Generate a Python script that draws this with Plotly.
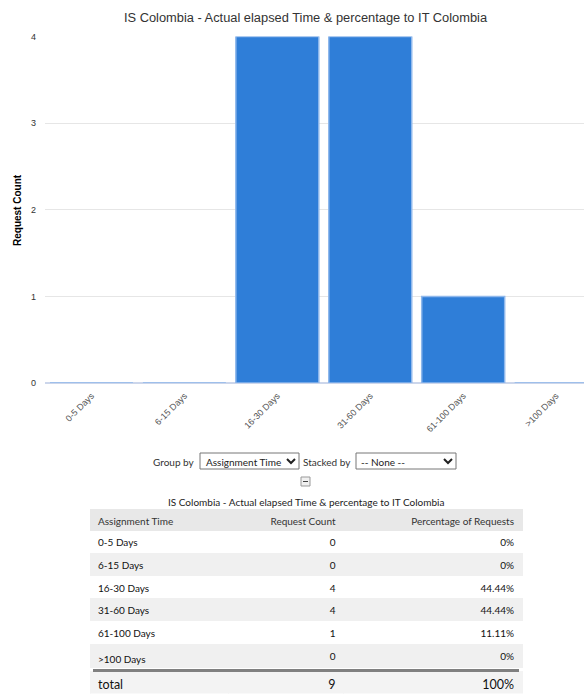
import plotly.graph_objects as go

# ---- data ----
categories = ["0-5 Days", "6-15 Days", "16-30 Days", "31-60 Days", "61-100 Days", ">100 Days"]
request_counts = [0, 0, 4, 4, 1, 0]
pct_labels = ["0%", "0%", "44.44%", "44.44%", "11.11%", "0%"]
total_label = "total"
total_count = "9"
total_pct = "100%"
table_headers = ["Assignment Time", "Request Count", "Percentage of Requests"]
chart_title = "IS Colombia - Actual elapsed Time & percentage to IT Colombia"
y_title = "Request Count"

W, H = 584, 696
def fx(px):
    return px / W
def fy(py):
    return 1 - py / H

UI_FONT = "Lato"
TX0, TX1 = 90, 522

fig = go.Figure()
fig.add_trace(go.Bar(
    x=categories, y=request_counts,
    marker=dict(color="#2f7ed8", line=dict(color="#8fb8ec", width=1.5)),
    xaxis="x", yaxis="y", showlegend=False,
))

n = len(categories)
row_colors = ["#ffffff" if i % 2 == 0 else "#f0f0f0" for i in range(n)]
fig.add_trace(go.Table(
    domain=dict(x=[fx(TX0), fx(TX1)], y=[fy(668), fy(509)]),
    columnwidth=[137, 113, 176],
    header=dict(values=table_headers, align=["left", "right", "right"],
                fill_color="#e8e8e8", line=dict(color="#e8e8e8", width=1), height=21.5,
                font=dict(family=UI_FONT, size=10, color="#333")),
    cells=dict(values=[categories, request_counts, pct_labels],
               align=["left", "right", "right"],
               fill_color=[row_colors] * 3,
               line=dict(color=[row_colors] * 3, width=1),
               height=22.8,
               font=dict(family=UI_FONT, size=10, color="#111")),
))
fig.add_trace(go.Table(
    domain=dict(x=[fx(TX0), fx(TX1)], y=[fy(694), fy(671.5)]),
    columnwidth=[137, 113, 176],
    header=dict(values=[total_label, total_count, total_pct], align=["left", "right", "right"],
                fill_color="#f3f3f3", line=dict(color="#f3f3f3", width=1), height=22.5,
                font=dict(family=UI_FONT, size=12.5, color="#111")),
    cells=dict(values=[[], [], []]),
))

shapes = [
    dict(type="line", xref="paper", yref="paper", x0=fx(93), x1=fx(519), y0=fy(670.5), y1=fy(670.5),
         line=dict(color="#808080", width=3)),
    dict(type="rect", xref="paper", yref="paper", x0=fx(200), x1=fx(299), y0=fy(469), y1=fy(453),
         line=dict(color="#767676", width=1), fillcolor="white"),
    dict(type="rect", xref="paper", yref="paper", x0=fx(356), x1=fx(456), y0=fy(469), y1=fy(453),
         line=dict(color="#767676", width=1), fillcolor="white"),
    dict(type="rect", xref="paper", yref="paper", x0=fx(301), x1=fx(310), y0=fy(486), y1=fy(477),
         line=dict(color="#999", width=1), fillcolor="#f0f0f0"),
    dict(type="line", xref="paper", yref="paper", x0=fx(303), x1=fx(308), y0=fy(481.5), y1=fy(481.5),
         line=dict(color="#444", width=1)),
]
for cx in (291, 448):
    shapes.append(dict(type="path", xref="paper", yref="paper",
                       path=f"M {fx(cx-4)} {fy(459)} L {fx(cx)} {fy(463)} L {fx(cx+4)} {fy(459)}",
                       line=dict(color="#222", width=2)))

def ann(text, x, y, xanchor="center", size=10, color="#333", family=UI_FONT, **kw):
    return dict(text=text, xref="paper", yref="paper", x=fx(x), y=fy(y), xanchor=xanchor,
                yanchor="middle", showarrow=False, font=dict(family=family, size=size, color=color), **kw)

annotations = [
    ann(f"<b>{y_title}</b>", 17, 210, size=10, color="#000", family="Arial", textangle=-90),
    ann("Group by", 197, 461.5, xanchor="right"),
    ann("Assignment Time", 204, 461.5, xanchor="left", color="#222"),
    ann("Stacked by", 353, 461.5, xanchor="right"),
    ann("-- None --", 359, 461.5, xanchor="left", color="#222"),
    ann(chart_title, 306, 501.5, color="#222"),
]

fig.update_layout(
    width=W, height=H,
    margin=dict(l=0, r=0, t=0, b=0, autoexpand=False),
    paper_bgcolor="white", plot_bgcolor="white",
    title=dict(text=chart_title, x=fx(305.5), xanchor="center", y=fy(17.5), yanchor="middle",
               xref="paper", automargin=False,
               font=dict(family="Arial", size=12.85, color="#333")),
    bargap=0.107,
    xaxis=dict(domain=[fx(45), 1], range=[-0.5, 5.3], type="category", tickangle=-45,
               tickfont=dict(family="Arial", size=9, color="#555"), showgrid=False, ticks="",
               ticklabelstandoff=5,
               showline=False, zeroline=False, automargin=False),
    yaxis=dict(domain=[fy(383), fy(36.5)], range=[0, 4], dtick=1, gridcolor="#e6e6e6",
               tickfont=dict(family="Arial", size=9, color="#333"), zeroline=True,
               zerolinecolor="#ccd6eb", zerolinewidth=2, ticklabelstandoff=8, showline=False,
               automargin=False),
    shapes=shapes, annotations=annotations,
)

fig.write_html("out.html")
